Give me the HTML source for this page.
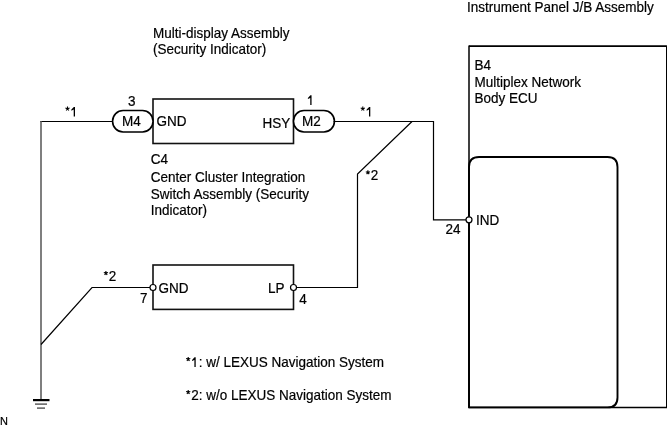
<!DOCTYPE html>
<html><head><meta charset="utf-8">
<style>
html,body{margin:0;padding:0;background:#fff;width:667px;height:426px;overflow:hidden}
svg{display:block;will-change:transform}
text{font-family:"Liberation Sans",sans-serif;font-size:13.5px;fill:#000;stroke:#000;stroke-width:0.2px}
</style></head><body>
<svg width="667" height="426" viewBox="0 0 667 426">
<!-- big box -->
<path d="M469 46.2 H666.5" stroke="#000" stroke-width="1.8"/>
<path d="M469 45.5 V407.5" stroke="#000" stroke-width="1.5"/>
<path d="M666.6 45.5 V407.5" stroke="#000" stroke-width="1.2"/>
<path d="M469 407.5 H667" stroke="#000" stroke-width="1.5"/>
<!-- inner rounded -->
<path d="M469 407.4 L607.5 407.4 Q617.5 407.4 617.5 397.4 L617.5 167 Q617.5 157 607.5 157 L479 157 Q469 157 469 167 Z" fill="none" stroke="#000" stroke-width="1.9"/>
<!-- box1 -->
<rect x="153" y="99" width="140.5" height="44.5" fill="none" stroke="#111" stroke-width="1.6"/>
<rect x="112.6" y="110.5" width="40.4" height="21.5" rx="10.5" ry="10.5" fill="#fff" stroke="#000" stroke-width="1.6"/>
<rect x="293.5" y="110.5" width="40.9" height="21.5" rx="10.5" ry="10.5" fill="#fff" stroke="#000" stroke-width="1.6"/>
<!-- wires -->
<g fill="none" stroke="#000" stroke-width="1.2">
<path d="M112.5 121.5 H40.3"/>
<path d="M41 121 V400" stroke="#555" stroke-width="1.5"/>
<path d="M333.5 121.5 H433.5 V219.8 H466"/>
<path d="M412 121.5 L357.5 174 V287.5 H297"/>
<path d="M150 287.5 H92 L41 344.5"/>
</g>
<!-- ground -->
<path d="M33 400.1 H49.5" stroke="#000" stroke-width="2.2"/>
<path d="M35 404.1 H47" stroke="#444" stroke-width="1.3"/>
<path d="M37 408.1 H45" stroke="#444" stroke-width="1.3"/>
<!-- box2 -->
<rect x="153" y="265" width="140.5" height="44.4" fill="none" stroke="#111" stroke-width="1.6"/>
<circle cx="153" cy="287.5" r="3" fill="#fff" stroke="#000" stroke-width="1.2"/>
<circle cx="293.5" cy="287.5" r="3" fill="#fff" stroke="#000" stroke-width="1.2"/>
<circle cx="469" cy="219.8" r="3" fill="#fff" stroke="#000" stroke-width="1.2"/>
<text transform="translate(153 38) scale(1 1.06)">Multi-display Assembly</text>
<text transform="translate(153 54) scale(1 1.06)">(Security Indicator)</text>
<text transform="translate(467 12) scale(1 1.06)">Instrument Panel J/B Assembly</text>
<text transform="translate(474.6 69.6) scale(1 1.06)">B4</text>
<text transform="translate(474.6 87) scale(1 1.06)">Multiplex Network</text>
<text transform="translate(474.6 103) scale(1 1.06)">Body ECU</text>
<text transform="translate(156.6 126) scale(1 1.06)">GND</text>
<text transform="translate(262.5 127.5) scale(1 1.06)">HSY</text>
<text transform="translate(122 126) scale(1 1.06)">M4</text>
<text transform="translate(128 105.5) scale(1 1.06)">3</text>
<text transform="translate(302 126) scale(1 1.06)">M2</text>
<text transform="translate(307 105) scale(1 1.06)"><tspan style="fill:none;stroke:none">1</tspan></text>
<path d="M311.55 95.30 L311.55 105.00 L310.25 105.00 L310.25 97.90 L307.90 99.10 L307.90 97.90 L310.40 95.30 Z" fill="#000"/>
<text transform="translate(150.8 164) scale(1 1.06)">C4</text>
<text transform="translate(150.8 182.4) scale(1 1.06)">Center Cluster Integration</text>
<text transform="translate(150.8 199) scale(1 1.06)">Switch Assembly (Security</text>
<text transform="translate(150.8 215) scale(1 1.06)">Indicator)</text>
<text transform="translate(65.2 116.6) scale(1 1.06)"><tspan style="fill:none;stroke:none">*</tspan><tspan style="fill:none;stroke:none">1</tspan></text>
<path d="M67.50 108.70 L67.50 106.50 M67.50 108.70 L69.59 108.02 M67.50 108.70 L68.79 110.48 M67.50 108.70 L66.21 110.48 M67.50 108.70 L65.41 108.02 " stroke="#000" stroke-width="1.1" fill="none"/>
<path d="M75.00 106.90 L75.00 116.60 L73.70 116.60 L73.70 109.50 L71.35 110.70 L71.35 109.50 L73.85 106.90 Z" fill="#000"/>
<text transform="translate(360.5 116.6) scale(1 1.06)"><tspan style="fill:none;stroke:none">*</tspan><tspan style="fill:none;stroke:none">1</tspan></text>
<path d="M362.80 108.70 L362.80 106.50 M362.80 108.70 L364.89 108.02 M362.80 108.70 L364.09 110.48 M362.80 108.70 L361.51 110.48 M362.80 108.70 L360.71 108.02 " stroke="#000" stroke-width="1.1" fill="none"/>
<path d="M370.30 106.90 L370.30 116.60 L369.00 116.60 L369.00 109.50 L366.65 110.70 L366.65 109.50 L369.15 106.90 Z" fill="#000"/>
<text transform="translate(365.6 180.3) scale(1 1.06)"><tspan style="fill:none;stroke:none">*</tspan>2</text>
<path d="M367.90 172.40 L367.90 170.20 M367.90 172.40 L369.99 171.72 M367.90 172.40 L369.19 174.18 M367.90 172.40 L366.61 174.18 M367.90 172.40 L365.81 171.72 " stroke="#000" stroke-width="1.1" fill="none"/>
<text transform="translate(103.6 281) scale(1 1.06)"><tspan style="fill:none;stroke:none">*</tspan>2</text>
<path d="M105.90 273.10 L105.90 270.90 M105.90 273.10 L107.99 272.42 M105.90 273.10 L107.19 274.88 M105.90 273.10 L104.61 274.88 M105.90 273.10 L103.81 272.42 " stroke="#000" stroke-width="1.1" fill="none"/>
<text transform="translate(158.4 293) scale(1 1.06)">GND</text>
<text transform="translate(268 293) scale(1 1.06)">LP</text>
<text transform="translate(140 303) scale(1 1.06)">7</text>
<text transform="translate(299.3 303.8) scale(1 1.06)">4</text>
<text transform="translate(476 225) scale(1 1.06)">IND</text>
<text transform="translate(445.6 234) scale(1 1.06)">24</text>
<text transform="translate(185.9 367) scale(1 1.06)"><tspan style="fill:none;stroke:none">*</tspan><tspan style="fill:none;stroke:none">1</tspan>: w/ LEXUS Navigation System</text>
<path d="M188.20 359.10 L188.20 356.90 M188.20 359.10 L190.29 358.42 M188.20 359.10 L189.49 360.88 M188.20 359.10 L186.91 360.88 M188.20 359.10 L186.11 358.42 " stroke="#000" stroke-width="1.1" fill="none"/>
<path d="M195.70 357.30 L195.70 367.00 L194.40 367.00 L194.40 359.90 L192.05 361.10 L192.05 359.90 L194.55 357.30 Z" fill="#000"/>
<text transform="translate(185.9 400) scale(1 1.06)"><tspan style="fill:none;stroke:none">*</tspan>2: w/o LEXUS Navigation System</text>
<path d="M188.20 392.10 L188.20 389.90 M188.20 392.10 L190.29 391.42 M188.20 392.10 L189.49 393.88 M188.20 392.10 L186.91 393.88 M188.20 392.10 L186.11 391.42 " stroke="#000" stroke-width="1.1" fill="none"/>
<text transform="translate(0 425) scale(1 1.06)" style="font-size:11px">N</text>
</svg>
</body></html>
